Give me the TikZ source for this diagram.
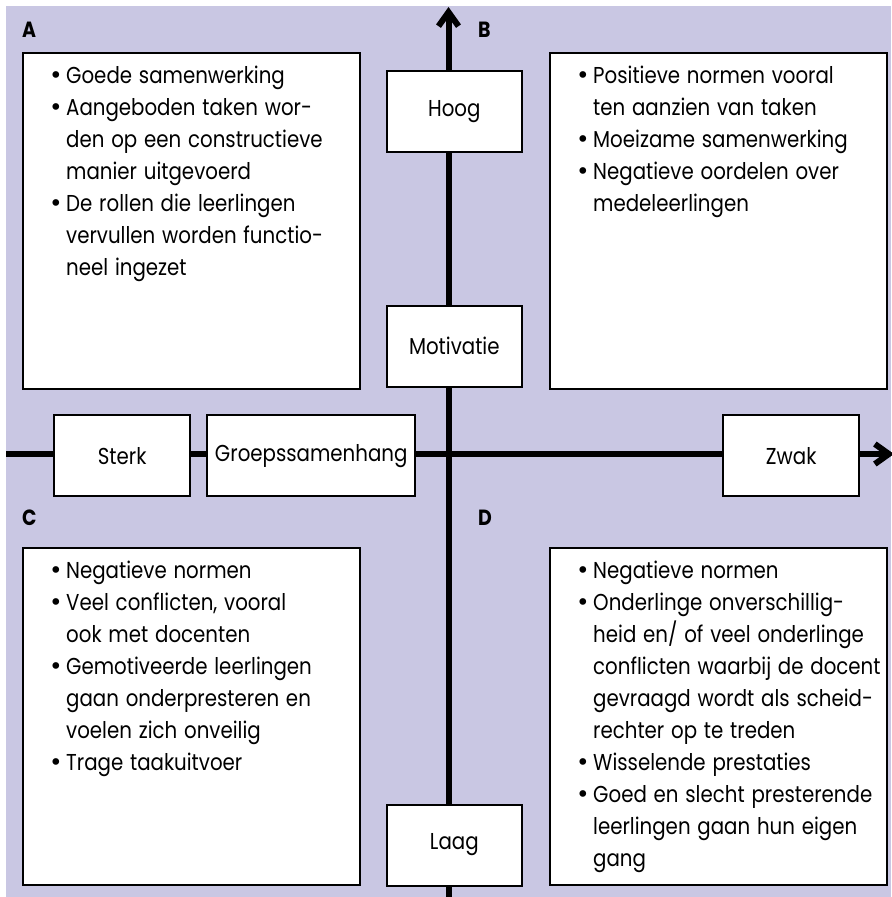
\documentclass[tikz,border=0pt]{standalone}
\usepackage{fontspec}
\setmainfont{Poppins}[FakeStretch=0.86]
\newfontfamily\bulfont{DejaVu Sans}
\usetikzlibrary{arrows.meta,calc,positioning}
\definecolor{lila}{RGB}{201,199,227}
\newcommand{\wsp}{\spaceskip=3.4pt plus 1pt minus 0.5pt\relax}
\tikzstyle{axis}=[line width=3pt]
\tikzstyle{quad}=[draw,line width=1pt,fill=white,minimum width=168.5pt,
  minimum height=168pt,inner sep=0pt]
\tikzstyle{tag}=[draw,line width=1pt,fill=white,minimum height=40.5pt,
  inner sep=0pt,font=\fontsize{11.5}{13}\selectfont]
\tikzstyle{items}=[align=left,inner sep=0pt,anchor=north west,
  font=\fontsize{11.5}{16}\selectfont\wsp]
\tikzstyle{letter}=[inner sep=0pt,anchor=base west,
  font=\bfseries\fontsize{11}{12}\selectfont]
\newcommand{\itm}{\makebox[8.5pt][l]{\bulfont •}}
\newcommand{\ind}{\hspace*{8.5pt}}

\begin{document}
\begin{tikzpicture}[x=0.5pt,y=-0.5pt]
  \useasboundingbox (0,0) rectangle (891,897);
  \fill[lila] (6,6) rectangle (891,897);

  % axes
  \coordinate (ytop) at (448.5,7);
  \coordinate (ybot) at (448.5,900);
  \coordinate (xl) at (6,454);
  \coordinate (xr) at (894,454);
  \draw[axis,-{Straight Barb[length=7pt,width=10pt]}] (ybot) -- (ytop);
  \draw[axis,-{Straight Barb[length=7pt,width=10pt]}] (xl) -- (xr);

  % quadrants
  \node[quad] (qa) at (191.3,221) {};
  \node[quad] (qb) at (718.3,221) {};
  \node[quad,minimum height=168.5pt] (qc) at (191.3,716.3) {};
  \node[quad,minimum height=168.5pt] (qd) at (718.3,716.3) {};

  \node[letter] (la) at ($(qa.north west)+(0,-14)$) {A};
  \node[letter] (lb) at ($(qb.north west)+(-71,-14)$) {B};
  \node[letter] (lc) at ($(qc.north west)+(0,-21)$) {C};
  \node[letter] (ld) at ($(qd.north west)+(-71,-21)$) {D};

  % labels on the axes
  \node[tag,minimum width=67.7pt] (hoog) at (454.3,111.8) {Hoog};
  \node[tag,minimum width=67.7pt] (motivatie) at (454.3,346.2) {Motivatie};
  \node[tag,minimum width=67.7pt] (laag) at (454.3,845) {Laag};
  \node[tag,minimum width=67.8pt] (sterk) at (122.2,455.8) {Sterk};
  \node[tag,minimum width=103.8pt] (groep) at (311.2,455.8) {Groepssamenhang};
  \node[tag,minimum width=67.8pt] (zwak) at (791.2,455.8) {Zwak};

  % texts
  \node[items] (ta) at ($(qa.north west)+(27,14)$) {%
    \itm Goede samenwerking\\
    \itm Aangeboden taken wor-\\
    \ind den op een constructieve\\
    \ind manier uitgevoerd\\
    \itm De rollen die leerlingen\\
    \ind vervullen worden functio-\\
    \ind neel ingezet};
  \node[items] (tb) at ($(qb.north west)+(27,14)$) {%
    \itm Positieve normen vooral\\
    \ind ten aanzien van taken\\
    \itm Moeizame samenwerking\\
    \itm Negatieve oordelen over\\
    \ind medeleerlingen};
  \node[items] (tc) at ($(qc.north west)+(27,14)$) {%
    \itm Negatieve normen\\
    \itm Veel conflicten, vooral\\
    \ind ook met docenten\\
    \itm Gemotiveerde leerlingen\\
    \ind gaan onderpresteren en\\
    \ind voelen zich onveilig\\
    \itm Trage taakuitvoer};
  \node[items] (td) at ($(qd.north west)+(27,14)$) {%
    \itm Negatieve normen\\
    \itm Onderlinge onverschillig-\\
    \ind heid en/ of veel onderlinge\\
    \ind conflicten waarbij de docent\\
    \ind gevraagd wordt als scheid-\\
    \ind rechter op te treden\\
    \itm Wisselende prestaties\\
    \itm Goed en slecht presterende\\
    \ind leerlingen gaan hun eigen\\
    \ind gang};
\end{tikzpicture}
\end{document}
